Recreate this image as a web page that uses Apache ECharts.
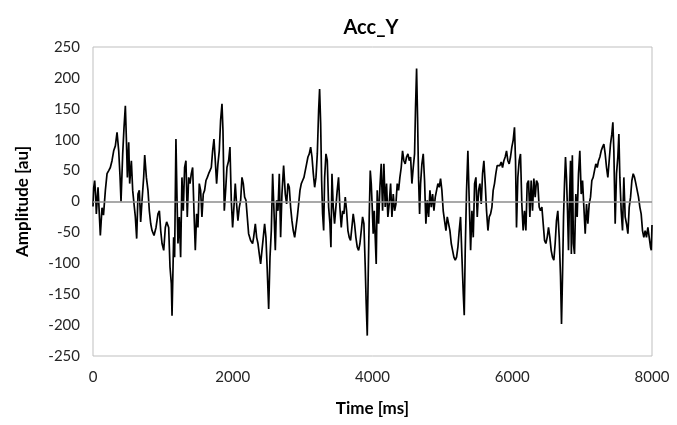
<!DOCTYPE html>
<html>
<head>
<meta charset="utf-8">
<script src="https://cdn.jsdelivr.net/npm/echarts@6/dist/echarts.min.js"></script>
<style>html,body{margin:0;padding:0;background:#fff;}#chart{width:677px;height:425px;}</style>
</head>
<body>
<div id="chart"></div>
<script>
const chartTitle = 'Acc_Y';
const xAxisName = 'Time [ms]';
const yAxisName = 'Amplitude [au]';
const xTicks = [0, 2000, 4000, 6000, 8000];
const yTicks = [-250, -200, -150, -100, -50, 0, 50, 100, 150, 200, 250];

// [time in ms, amplitude in au]
const seg1 = [[0,-8],[10,22],[24,34],[38,10],[48,-20],[72,23],[105,-55],[129,-10],[150,-22],[167,-25],[177,18],[201,45],[225,50],[248,55],[272,66],[296,82],[320,90],[344,112],[368,82],[387,40],[401,0],[425,77],[444,120],[463,155],[477,104],[492,39],[511,96],[525,29],[549,66],[568,18],[587,-4],[606,-25],[625,-60],[644,12],[663,18],[682,-33],[702,2],[725,39],[740,75],[764,39],[787,18],[806,-15],[826,-36],[845,-47],[873,-55],[902,-42],[930,-20],[950,-15],[969,-47],[988,-68],[1012,-79],[1035,-42],[1054,-33],[1083,-42],[1102,-106],[1121,-133],[1131,-185]];
const seg2 = [[1154,-58],[1168,-90],[1187,101],[1202,7],[1216,-68],[1235,-25],[1254,-90],[1273,39],[1292,-15],[1311,55],[1330,66],[1349,-25],[1369,39],[1388,29],[1407,45],[1426,55],[1445,-15],[1464,-79],[1483,-20],[1502,-42],[1521,29],[1540,18],[1559,-25],[1578,12],[1597,18],[1617,34],[1636,39],[1655,45],[1674,50],[1693,55],[1712,82],[1731,101],[1750,66],[1769,29],[1788,61],[1807,82],[1826,131],[1846,158],[1860,115],[1879,-15],[1898,18],[1917,55],[1941,66],[1960,88],[1979,2],[1998,-42],[2017,-9],[2036,29],[2055,-4],[2074,-31],[2094,-9],[2113,2],[2132,39],[2151,29],[2170,7],[2189,2],[2208,-25],[2227,-52],[2256,-63],[2284,-68]];
const seg3 = [[2299,-58],[2323,-36],[2342,-58],[2361,-68],[2380,-85],[2399,-101],[2418,-79],[2437,-58],[2456,-36],[2475,-58],[2494,-112],[2514,-174],[2533,-90],[2552,-47],[2571,45],[2590,-15],[2609,-79],[2628,2],[2647,-15],[2666,45],[2685,-58],[2704,12],[2728,58],[2752,12],[2771,-4],[2790,29],[2809,23],[2828,-9],[2847,-31],[2866,-47],[2886,-58],[2905,-42],[2924,-25],[2943,-4],[2962,18],[2981,29],[3000,34],[3019,39],[3038,50],[3057,61],[3076,72],[3095,77],[3115,88],[3134,72],[3153,45],[3172,23],[3191,39],[3210,77],[3229,147],[3243,182],[3258,126],[3272,34],[3286,-20],[3301,-47],[3315,39],[3334,77],[3353,66],[3372,-9],[3391,-36],[3405,-74]];
const seg4 = [[3420,45],[3438,-9],[3457,-36],[3476,-9],[3495,18],[3514,39],[3533,-9],[3553,-42],[3572,-15],[3591,-20],[3610,7],[3629,-15],[3648,-47],[3667,-58],[3686,-63],[3705,-42],[3724,-20],[3743,-36],[3762,-58],[3782,-74],[3801,-79],[3820,-68],[3839,-47],[3858,-25],[3877,-36],[3896,-106],[3910,-166],[3925,-217],[3939,-117],[3953,-25],[3968,50],[3982,29],[3996,-9],[4010,-52],[4025,-15],[4039,-58],[4053,-101],[4068,18],[4087,-36],[4106,23],[4125,61],[4144,-15],[4163,61],[4182,-9],[4201,29],[4220,-25],[4239,-4],[4259,29],[4278,-25],[4297,12],[4316,-15],[4335,-4],[4354,29],[4373,18],[4392,39],[4411,55],[4430,82],[4449,66],[4468,61],[4487,72],[4507,77],[4526,66],[4545,72],[4564,29]];
const seg5 = [[4583,55],[4602,77],[4616,153],[4631,215],[4645,136],[4659,39],[4674,-20],[4688,29],[4707,61],[4726,77],[4745,34],[4764,-36],[4783,2],[4803,-25],[4822,18],[4841,-9],[4860,12],[4879,-15],[4898,7],[4917,18],[4936,29],[4955,23],[4974,37],[4993,18],[5012,-15],[5031,-31],[5051,-47],[5070,-25],[5089,-25],[5108,-47],[5127,-68],[5146,-79],[5165,-90],[5184,-95],[5203,-90],[5222,-74],[5241,-47],[5260,-25],[5280,-90],[5299,-149],[5313,-184],[5327,-79],[5346,18],[5365,82],[5384,2],[5404,-79],[5423,-15],[5442,-58],[5461,29],[5480,39],[5499,-25],[5518,18],[5537,29],[5556,-4],[5575,45],[5594,66],[5613,29],[5632,-15],[5652,-47],[5671,-25],[5690,-20],[5709,-9]];
const seg6 = [[5727,18],[5746,29],[5765,45],[5784,58],[5803,61],[5822,58],[5842,64],[5861,55],[5880,66],[5899,72],[5918,82],[5937,66],[5956,61],[5975,72],[5994,88],[6013,99],[6032,120],[6047,66],[6061,-42],[6080,39],[6099,66],[6118,77],[6137,-4],[6156,-47],[6175,-15],[6195,-47],[6214,29],[6233,34],[6252,-25],[6271,34],[6290,-15],[6309,37],[6328,7],[6347,34],[6366,29],[6385,-9],[6404,-15],[6424,-9],[6443,-36],[6462,-63],[6481,-68],[6500,-58],[6519,-42],[6538,-58],[6557,-79],[6576,-90],[6595,-95],[6614,-68],[6633,-31],[6652,-15],[6672,-58],[6691,-122],[6705,-198],[6719,-122],[6734,-25],[6748,29],[6762,72],[6776,39],[6791,-15],[6805,-79],[6819,2],[6834,66]];
const seg7 = [[6846,-85],[6860,75],[6875,-68],[6891,-85],[6910,12],[6929,-25],[6948,45],[6967,82],[6987,12],[7006,34],[7025,-9],[7044,-52],[7063,-4],[7082,-36],[7101,-4],[7120,7],[7139,34],[7158,39],[7177,50],[7196,61],[7216,55],[7235,66],[7254,72],[7273,82],[7292,88],[7311,93],[7330,77],[7349,55],[7368,39],[7387,66],[7406,93],[7425,109],[7440,128],[7454,82],[7473,-36],[7492,45],[7511,72],[7526,109],[7540,39],[7559,-15],[7578,-47],[7597,39],[7616,-25],[7635,-36],[7655,-52],[7674,-9],[7693,7],[7712,34],[7731,45],[7750,39],[7769,29],[7788,18],[7807,7],[7826,-9],[7845,-20],[7864,-47],[7883,-58],[7902,-47],[7921,-58],[7941,-42],[7960,-58],[7979,-74],[7990,-79],[8000,-38]];

const samples = [].concat(seg1, seg2, seg3, seg4, seg5, seg6, seg7);

const FONT = 'Lato, "Open Sans", sans-serif';
const chart = echarts.init(document.getElementById('chart'), null, {renderer: 'canvas'});
chart.setOption({
  animation: false,
  backgroundColor: '#ffffff',
  title: {
    text: chartTitle,
    left: 366,
    top: 13,
    textAlign: 'center',
    textStyle: {fontFamily: FONT, fontSize: 20, fontWeight: 'bold', color: '#000'}
  },
  grid: {
    left: 93, right: 25, top: 47, bottom: 69,
    show: true, borderColor: '#bfbfbf', borderWidth: 1, backgroundColor: 'transparent'
  },
  xAxis: {
    type: 'value',
    min: xTicks[0], max: xTicks[xTicks.length - 1], interval: xTicks[1] - xTicks[0],
    name: xAxisName, nameLocation: 'middle', nameGap: 44,
    nameTextStyle: {fontFamily: FONT, fontSize: 17, fontWeight: 'bold', color: '#000'},
    axisLine: {show: false}, axisTick: {show: false}, splitLine: {show: false},
    axisLabel: {fontFamily: FONT, fontSize: 15, color: '#262626', margin: 14, formatter: v => String(v)}
  },
  yAxis: {
    type: 'value',
    min: yTicks[0], max: yTicks[yTicks.length - 1], interval: yTicks[1] - yTicks[0],
    name: yAxisName, nameLocation: 'middle', nameGap: 62,
    nameTextStyle: {fontFamily: FONT, fontSize: 17, fontWeight: 'bold', color: '#000'},
    axisLine: {show: false}, axisTick: {show: false}, splitLine: {show: false},
    axisLabel: {fontFamily: FONT, fontSize: 15, color: '#262626', margin: 13, formatter: v => String(v)}
  },
  series: [{
    type: 'line',
    data: samples,
    showSymbol: false,
    symbol: 'none',
    lineStyle: {color: '#000', width: 1.7},
    markLine: {
      silent: true, symbol: 'none', label: {show: false},
      lineStyle: {color: '#8c8c8c', width: 1.5, type: 'solid'},
      data: [{yAxis: 0}]
    },
    z: 3
  }]
});
</script>
</body>
</html>
